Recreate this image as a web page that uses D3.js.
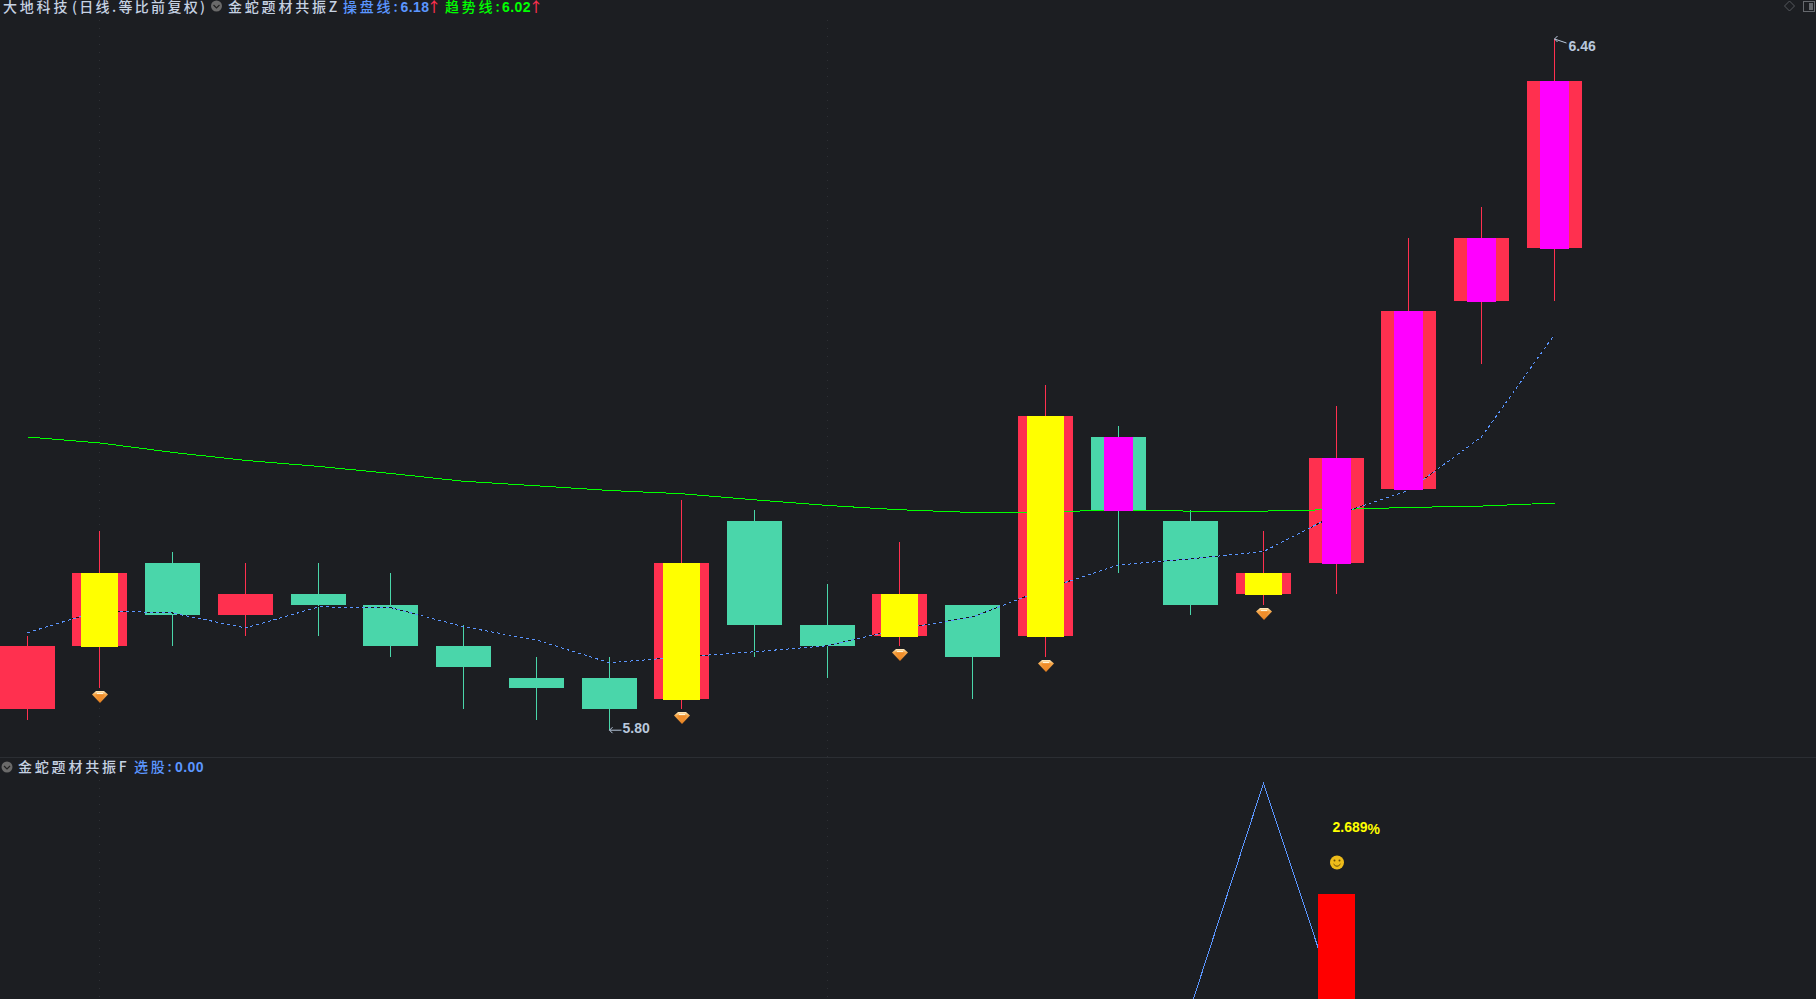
<!DOCTYPE html>
<html><head><meta charset="utf-8">
<script src="https://cdn.jsdelivr.net/npm/d3@7/dist/d3.min.js"></script>
<style>
html,body{margin:0;padding:0;background:#1c1e22;overflow:hidden}
svg{display:block}
text{font-family:"Noto Sans CJK SC","Liberation Sans",sans-serif;font-weight:500}
text.num{font-family:"Liberation Sans",Arial,sans-serif;font-weight:700}
</style></head><body>
<script>
const opens  = [5.82,5.88,5.96,5.91,5.93,5.92,5.88,5.85,5.85,5.83,6.00,5.90,5.89,5.92,5.89,6.08,6.00,5.93,5.96,6.03,6.21,6.26];
const closes = [5.88,5.95,5.91,5.93,5.92,5.88,5.86,5.84,5.82,5.96,5.90,5.88,5.93,5.87,6.10,6.01,5.92,5.95,6.06,6.20,6.27,6.42];
const highs  = [5.89,5.99,5.97,5.96,5.96,5.95,5.90,5.87,5.87,6.02,6.01,5.94,5.98,5.92,6.13,6.09,6.01,5.99,6.11,6.27,6.30,6.46];
const lows   = [5.81,5.84,5.88,5.89,5.89,5.87,5.82,5.81,5.80,5.82,5.87,5.85,5.88,5.83,5.87,5.95,5.91,5.92,5.93,6.03,6.15,6.21];
const overlays = ["","yellow","","","","","","","","yellow","","","yellow","","yellow","magenta","","yellow","magenta","magenta","magenta","magenta"];
const diamonds = [1,9,12,14,17];
const trendLine = [6.080,6.0743,6.0653,6.0576,6.0519,6.0452,6.0377,6.0334,6.0289,6.0258,6.020,6.0146,6.0105,6.0079,6.0085,6.0102,6.0092,6.0092,6.0107,6.0127,6.014,6.0169];
const tradeLine = [5.8931,5.9141,5.9119,5.8976,5.9177,5.9172,5.8988,5.8861,5.8644,5.8699,5.8749,5.8807,5.8966,5.9081,5.9349,5.9578,5.9636,5.9706,6.0061,6.0289,6.080,6.1778];
const subLineIdx = [16,17,18];
const subLine = [-0.2,5.5,-0.08];
const subBarIdx = 18;
const subBarValue = 2.689;
const gridIdx = [1,11];
const labelLow = "5.80", labelHigh = "6.46";

const W=1816,H=999;
const C={bg:"#1c1e22",up:"#ff304f",down:"#4ad6aa",yellow:"#ffff00",magenta:"#ff00ff",trend:"#00ff00",blue:"#5b96ff",txt:"#c6d2e2"};
const svg=d3.select("body").append("svg").attr("width",W).attr("height",H);
const x=d3.scaleLinear().domain([0,21]).range([27.71,27.71+21*72.725]);
const y=d3.scaleLinear().domain([5.80,6.46]).range([730.2,39]);
const ySub=d3.scaleLinear().domain([0,subBarValue]).range([1000,894]);
const left=i=>Math.floor(x(i)-27.5);
const ry=v=>Math.round(y(v));
const idx=d3.range(opens.length);

// panel separator and faint grid
svg.append("line").attr("x1",0).attr("x2",W).attr("y1",757.5).attr("y2",757.5).attr("stroke","#2b2e33");
svg.selectAll(".grid").data(gridIdx).join("line").attr("x1",i=>left(i)+27.5).attr("x2",i=>left(i)+27.5)
  .attr("y1",20).attr("y2",H).attr("stroke","#2e3035").attr("stroke-dasharray","1,7");

// wicks + bodies
const g=svg.append("g").attr("shape-rendering","crispEdges");
g.selectAll(".w").data(idx).join("rect").attr("x",i=>left(i)+27).attr("width",1)
  .attr("y",i=>ry(highs[i])).attr("height",i=>ry(lows[i])-ry(highs[i]))
  .attr("fill",i=>closes[i]>=opens[i]?C.up:C.down);
g.selectAll(".b").data(idx).join("rect").attr("x",left).attr("width",55)
  .attr("y",i=>ry(Math.max(opens[i],closes[i])))
  .attr("height",i=>Math.abs(ry(opens[i])-ry(closes[i])))
  .attr("fill",i=>closes[i]>=opens[i]?C.up:C.down);

// lines
const ln=a=>d3.line().x((d,i)=>left(i)+27.5).y(d=>y(d))(a);
const lg=svg.append("g").attr("fill","none").attr("shape-rendering","crispEdges");
lg.append("path").attr("d",ln(trendLine)).attr("stroke",C.trend).attr("stroke-width",1);
lg.append("path").attr("d",ln(tradeLine)).attr("stroke","#15161a").attr("stroke-width",1);
lg.append("path").attr("d",ln(tradeLine)).attr("stroke",C.blue).attr("stroke-width",1).attr("stroke-dasharray","3,3");

// overlays
const ov=svg.append("g").attr("shape-rendering","crispEdges");
ov.selectAll("rect").data(idx.filter(i=>overlays[i])).join("rect")
  .attr("x",i=>left(i)+(overlays[i]==="yellow"?9:13))
  .attr("width",i=>overlays[i]==="yellow"?37:29)
  .attr("y",i=>ry(Math.max(opens[i],closes[i])))
  .attr("height",i=>Math.abs(ry(opens[i])-ry(closes[i]))+1)
  .attr("fill",i=>overlays[i]==="yellow"?C.yellow:C.magenta);

// diamonds
const defs=svg.append("defs");
const gr=defs.append("linearGradient").attr("id","dg").attr("x1",0).attr("x2",0).attr("y1",0).attr("y2",1);
gr.append("stop").attr("offset",0).attr("stop-color","#fff0c8");
gr.append("stop").attr("offset",.3).attr("stop-color","#f5a74a");
gr.append("stop").attr("offset",1).attr("stop-color","#e07a1c");
const dm=svg.selectAll(".dm").data(diamonds).join("g")
  .attr("transform",i=>`translate(${left(i)+28},${ry(lows[i])+3})`);
dm.append("path").attr("d","M-4,0H4L8,3.5L0,12L-8,3.5Z").attr("fill","url(#dg)");
dm.append("path").attr("d","M-5,3.5H5L0,10Z").attr("fill","#f08d2a");
dm.append("path").attr("d","M-3,2.5H3").attr("stroke","#fff4d8").attr("stroke-width",1);

// extreme labels
const iLow=lows.indexOf(d3.min(lows)), iHigh=highs.indexOf(d3.max(highs));
const lab=(i,v,dx,dy,tx,ty,t)=>{
  const X=left(i)+27.5,Y=y(v);
  svg.append("path").attr("d",`M${X},${Y}L${X+dx},${Y+dy}M${X+3},${Y-3}L${X},${Y}L${X+3},${Y+3}`)
    .attr("fill","none").attr("stroke","#b9c8dc").attr("stroke-width",1);
  svg.append("text").attr("class","num").attr("x",X+tx).attr("y",Y+ty).attr("font-size",14).attr("fill","#b9c8dc").text(t);
};
lab(iLow,lows[iLow],12,0,13,2.8,labelLow);
lab(iHigh,highs[iHigh],12,4,14,12,labelHigh);

// sub panel
svg.append("path").attr("fill","none").attr("stroke",C.blue).attr("stroke-width",1).attr("shape-rendering","crispEdges")
  .attr("d",d3.line().x((d,k)=>left(subLineIdx[k])+27.5).y(d=>ySub(d))(subLine));
svg.append("rect").attr("shape-rendering","crispEdges").attr("x",left(subBarIdx)+9).attr("width",37)
  .attr("y",ySub(subBarValue)).attr("height",H-ySub(subBarValue)).attr("fill","#ff0000");
const tx=left(subBarIdx)+23.5;
svg.append("text").attr("class","num").attr("x",tx).attr("y",832).attr("font-size",14).attr("fill",C.yellow).text(subBarValue.toFixed(3));
svg.append("text").attr("class","num").attr("x",tx+35).attr("y",834).attr("font-size",14).attr("fill",C.yellow).text("%");
const sm=svg.append("g").attr("transform","translate(1337,862.5)");
sm.append("circle").attr("r",7).attr("fill","#eebc1a");
sm.append("circle").attr("cx",-2.5).attr("cy",-2).attr("r",1).attr("fill","#6b4e05");
sm.append("circle").attr("cx",2.5).attr("cy",-2).attr("r",1).attr("fill","#6b4e05");
sm.append("path").attr("d","M-3.5,1.5Q0,6 3.5,1.5").attr("fill","none").attr("stroke","#6b4e05");

// header text
const T=(px,py,s,c,ls=2.8,cls="",fs=14)=>svg.append("text").attr("class",cls).attr("x",px).attr("y",py).attr("font-size",fs)
  .attr("letter-spacing",ls).attr("fill",c).text(s);
const chev=(cx,cy)=>{
  svg.append("circle").attr("cx",cx).attr("cy",cy).attr("r",5.5).attr("fill","#6a6a6a");
  svg.append("path").attr("d",`M${cx-3},${cy-1}L${cx},${cy+2}L${cx+3},${cy-1}`).attr("fill","none").attr("stroke","#222").attr("stroke-width",1.2);
};
const hy=11.5;
T(3,hy,"大地科技",C.txt);
T(72,hy,"(日线.等比前复权)",C.txt,0).attr("textLength",133).attr("lengthAdjust","spacing");
chev(216.5,6);
T(228,hy,"金蛇题材共振Z",C.txt);
T(343,hy,"操盘线:",C.blue);
T(400.5,hy,"6.18",C.blue,.4,"num",14);
T(427,hy,"↑",C.up,0);
T(445,hy,"趋势线:",C.trend);
T(502,hy,"6.02",C.trend,.4,"num",14);
T(529,hy,"↑",C.up,0);
chev(7,767);
T(18,772,"金蛇题材共振F",C.txt);
T(134,772,"选股:",C.blue);
T(175,772,"0.00",C.blue,.4,"num",14);

// top-right icons
svg.append("path").attr("d","M1789.5,1L1794.5,6L1789.5,11L1784.5,6Z").attr("fill","none").attr("stroke","#55585d");
svg.append("rect").attr("x",1803.5).attr("y",1.5).attr("width",11).attr("height",10).attr("fill","none").attr("stroke","#66696e");
svg.append("rect").attr("x",1809).attr("y",3).attr("width",4).attr("height",7).attr("fill","#66696e");
</script>
</body></html>
